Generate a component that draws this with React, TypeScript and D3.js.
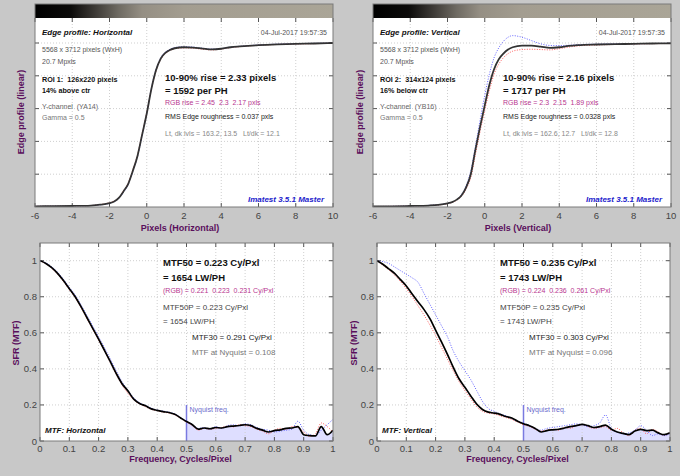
import React from 'react';
import * as d3 from 'd3';

// ---------- DATA ----------
const EDGE_X = [-6, -5, -4, -3, -2.5, -2, -1.75, -1.5, -1.25, -1, -0.75, -0.5, -0.25, 0, 0.25, 0.5, 0.75, 1, 1.25, 1.5, 2, 2.5, 3, 3.5, 4, 4.5, 5, 6, 7, 8, 9, 10];
const EDGE_H_Y = [0.004, 0.005, 0.006, 0.009, 0.014, 0.024, 0.034, 0.055, 0.095, 0.14, 0.22, 0.31, 0.44, 0.57, 0.72, 0.835, 0.905, 0.94, 0.958, 0.968, 0.974, 0.972, 0.966, 0.961, 0.965, 0.974, 0.979, 0.987, 0.992, 0.995, 0.997, 1.0];
const EDGE_H_R = [0.004, 0.005, 0.006, 0.009, 0.015, 0.026, 0.036, 0.057, 0.098, 0.145, 0.225, 0.315, 0.445, 0.575, 0.72, 0.83, 0.9, 0.935, 0.955, 0.965, 0.97, 0.968, 0.962, 0.958, 0.963, 0.972, 0.978, 0.986, 0.991, 0.994, 0.996, 0.999];
const EDGE_H_B = [0.004, 0.005, 0.006, 0.009, 0.013, 0.022, 0.032, 0.052, 0.09, 0.135, 0.215, 0.305, 0.435, 0.57, 0.725, 0.84, 0.91, 0.945, 0.962, 0.972, 0.977, 0.975, 0.968, 0.963, 0.966, 0.975, 0.98, 0.988, 0.993, 0.996, 0.998, 1.0];
const EDGE_V_Y = [0.003, 0.004, 0.006, 0.009, 0.013, 0.022, 0.03, 0.045, 0.07, 0.12, 0.2, 0.35, 0.49, 0.62, 0.745, 0.84, 0.9, 0.935, 0.96, 0.974, 0.984, 0.984, 0.978, 0.97, 0.974, 0.982, 0.987, 0.991, 0.993, 0.995, 0.997, 0.998];
const EDGE_V_R = [0.003, 0.004, 0.006, 0.009, 0.012, 0.02, 0.028, 0.042, 0.065, 0.11, 0.18, 0.32, 0.46, 0.59, 0.71, 0.81, 0.87, 0.91, 0.935, 0.95, 0.96, 0.962, 0.96, 0.958, 0.965, 0.975, 0.982, 0.988, 0.991, 0.994, 0.996, 0.997];
const EDGE_V_B = [0.003, 0.004, 0.006, 0.01, 0.014, 0.022, 0.03, 0.045, 0.075, 0.13, 0.22, 0.37, 0.53, 0.68, 0.81, 0.91, 0.97, 1.01, 1.035, 1.045, 1.035, 1.015, 0.995, 0.985, 0.984, 0.986, 0.99, 0.993, 0.995, 0.996, 0.997, 0.998];

const FREQ = [0, 0.02, 0.04, 0.06, 0.08, 0.1, 0.12, 0.14, 0.16, 0.18, 0.2, 0.22, 0.24, 0.26, 0.28, 0.3, 0.32, 0.34, 0.36, 0.38, 0.4, 0.42, 0.44, 0.46, 0.48, 0.5, 0.52, 0.54, 0.56, 0.58, 0.6, 0.62, 0.64, 0.66, 0.68, 0.7, 0.72, 0.74, 0.76, 0.78, 0.8, 0.82, 0.84, 0.86, 0.88, 0.9, 0.92, 0.94, 0.96, 0.98, 1.0];
const MTF_H_Y = [1.0, 0.985, 0.962, 0.93, 0.89, 0.845, 0.8, 0.745, 0.685, 0.625, 0.565, 0.503, 0.44, 0.375, 0.318, 0.278, 0.232, 0.208, 0.195, 0.178, 0.17, 0.163, 0.158, 0.148, 0.128, 0.108, 0.09, 0.066, 0.072, 0.068, 0.075, 0.072, 0.08, 0.083, 0.086, 0.09, 0.085, 0.07, 0.06, 0.05, 0.058, 0.062, 0.07, 0.072, 0.08, 0.035, 0.03, 0.028, 0.08, 0.035, 0.06];
const MTF_H_R = [1, 0.983, 0.958, 0.925, 0.885, 0.84, 0.795, 0.74, 0.68, 0.62, 0.56, 0.5, 0.435, 0.37, 0.31, 0.265, 0.228, 0.205, 0.19, 0.175, 0.168, 0.16, 0.155, 0.145, 0.125, 0.105, 0.085, 0.06, 0.07, 0.065, 0.07, 0.075, 0.082, 0.078, 0.09, 0.085, 0.08, 0.065, 0.055, 0.04, 0.06, 0.07, 0.065, 0.08, 0.075, 0.05, 0.025, 0.04, 0.1, 0.08, 0.05];
const MTF_H_B = [1, 0.988, 0.966, 0.936, 0.897, 0.853, 0.81, 0.755, 0.697, 0.638, 0.578, 0.518, 0.455, 0.39, 0.328, 0.28, 0.24, 0.212, 0.198, 0.182, 0.172, 0.166, 0.16, 0.15, 0.13, 0.11, 0.09, 0.07, 0.075, 0.065, 0.08, 0.07, 0.085, 0.09, 0.085, 0.095, 0.09, 0.075, 0.065, 0.06, 0.05, 0.055, 0.06, 0.065, 0.11, 0.06, 0.035, 0.03, 0.06, 0.09, 0.12];
const MTF_V_Y = [1.0, 0.98, 0.955, 0.93, 0.895, 0.86, 0.815, 0.772, 0.73, 0.68, 0.615, 0.55, 0.482, 0.41, 0.345, 0.298, 0.25, 0.205, 0.175, 0.16, 0.155, 0.148, 0.136, 0.128, 0.11, 0.096, 0.085, 0.07, 0.05, 0.058, 0.062, 0.065, 0.072, 0.08, 0.085, 0.092, 0.085, 0.075, 0.08, 0.088, 0.065, 0.05, 0.042, 0.035, 0.055, 0.065, 0.058, 0.06, 0.045, 0.035, 0.045];
const MTF_V_R = [1, 0.975, 0.95, 0.92, 0.885, 0.845, 0.8, 0.75, 0.7, 0.645, 0.585, 0.52, 0.455, 0.39, 0.33, 0.28, 0.235, 0.19, 0.165, 0.155, 0.15, 0.14, 0.13, 0.12, 0.105, 0.09, 0.08, 0.065, 0.055, 0.06, 0.065, 0.06, 0.075, 0.07, 0.085, 0.09, 0.08, 0.07, 0.075, 0.08, 0.06, 0.07, 0.045, 0.03, 0.06, 0.07, 0.04, 0.065, 0.05, 0.03, 0.05];
const MTF_V_B = [1, 0.995, 0.985, 0.965, 0.945, 0.925, 0.905, 0.88, 0.82, 0.76, 0.7, 0.64, 0.58, 0.5, 0.44, 0.39, 0.34, 0.28, 0.22, 0.18, 0.165, 0.15, 0.14, 0.125, 0.11, 0.1, 0.085, 0.07, 0.06, 0.07, 0.075, 0.08, 0.085, 0.09, 0.095, 0.09, 0.08, 0.085, 0.1, 0.145, 0.07, 0.05, 0.04, 0.045, 0.06, 0.085, 0.06, 0.03, 0.04, 0.03, 0.04];

const EDGE_X_TICKS = [-6, -4, -2, 0, 2, 4, 6, 8, 10];
const EDGE_Y_GRID = [0.2, 0.4, 0.6, 0.8, 1.0];
const MTF_X_TICKS = [0, 0.1, 0.2, 0.3, 0.4, 0.5, 0.6, 0.7, 0.8, 0.9, 1];
const MTF_Y_TICKS = [0, 0.2, 0.4, 0.6, 0.8, 1];
const NYQUIST = 0.5;

const EDGE_TEXT_H = {
  title: 'Edge profile: Horizontal', date: '04-Jul-2017 19:57:35',
  size: '5568 x 3712 pixels (WxH)', mp: '20.7 Mpxls', roi: 'ROI 1:  126x220 pixels', pos: '14% above ctr',
  chan: 'Y-channel  (YA14)', gamma: 'Gamma = 0.5',
  rise: '10-90% rise = 2.33 pixels', ph: '= 1592 per PH', rgb: 'RGB rise = 2.45  2.3  2.17 pxls',
  rms: 'RMS Edge roughness = 0.037 pxls', lvls: 'Lt, dk lvls = 163.2, 13.5   Lt/dk = 12.1',
  axis: 'Pixels (Horizontal)',
};
const EDGE_TEXT_V = {
  title: 'Edge profile: Vertical', date: '04-Jul-2017 19:57:35',
  size: '5568 x 3712 pixels (WxH)', mp: '20.7 Mpxls', roi: 'ROI 2:  314x124 pixels', pos: '16% below ctr',
  chan: 'Y-channel  (YB16)', gamma: 'Gamma = 0.5',
  rise: '10-90% rise = 2.16 pixels', ph: '= 1717 per PH', rgb: 'RGB rise = 2.3  2.15  1.89 pxls',
  rms: 'RMS Edge roughness = 0.0328 pxls', lvls: 'Lt, dk lvls = 162.6, 12.7   Lt/dk = 12.8',
  axis: 'Pixels (Vertical)',
};
const MTF_TEXT_H = {
  mtf50: 'MTF50 = 0.223 Cy/Pxl', lw: '= 1654 LW/PH', rgb: '(RGB) = 0.221  0.223  0.231 Cy/Pxl',
  p: 'MTF50P = 0.223 Cy/Pxl', plw: '= 1654 LW/PH', m30: 'MTF30 = 0.291 Cy/Pxl', nyq: 'MTF at Nyquist = 0.108',
  label: 'MTF: Horizontal',
};
const MTF_TEXT_V = {
  mtf50: 'MTF50 = 0.235 Cy/Pxl', lw: '= 1743 LW/PH', rgb: '(RGB) = 0.224  0.236  0.261 Cy/Pxl',
  p: 'MTF50P = 0.235 Cy/Pxl', plw: '= 1743 LW/PH', m30: 'MTF30 = 0.303 Cy/Pxl', nyq: 'MTF at Nyquist = 0.096',
  label: 'MTF: Vertical',
};
const SOFTWARE = 'Imatest 3.5.1 Master';

// ---------- STYLE ----------
const FONT = 'Liberation Sans, Arial, Helvetica, sans-serif';
const BG = '#c8c8c8';
const PURPLE = '#5a0f5c';
const MAGENTA = '#b8368f';

type TP = { x: number; y: number; s: number; c?: string; b?: boolean; i?: boolean; a?: string; w?: number; children: any };
function T({ x, y, s, c = '#222', b, i, a = 'start', w, children }: TP) {
  const extra: any = {};
  if (w) { extra.textLength = w; extra.lengthAdjust = 'spacingAndGlyphs'; }
  return (
    <text x={x} y={y} fontSize={s} fill={c} fontWeight={b ? 'bold' : 'normal'} fontStyle={i ? 'italic' : 'normal'}
      textAnchor={a} fontFamily={FONT} style={{ whiteSpace: 'pre' }} {...extra}>{children}</text>
  );
}

function EdgePanel({ id, x0, x1, black, red, blue, t, ylabX }: any) {
  const top = 4, gradBot = 18, bottom = 207;
  const xs = d3.scaleLinear().domain([-6, 10]).range([x0, x1]);
  const ys = d3.scaleLinear().domain([0, 1]).range([bottom, 43]);
  const line = (vals: number[]) => d3.line<number>().x((_, k) => xs(EDGE_X[k])).y(v => ys(v)).curve(d3.curveMonotoneX)(vals) || '';
  const ox = x0;
  return (
    <g>
      <defs>
        <linearGradient id={`grad${id}`} x1="0" x2="1" y1="0" y2="0">
          <stop offset="0" stopColor="#000" />
          <stop offset="0.12" stopColor="#0c0b0a" />
          <stop offset="0.2" stopColor="#3c3935" />
          <stop offset="0.28" stopColor="#6e6a62" />
          <stop offset="0.36" stopColor="#958f84" />
          <stop offset="0.5" stopColor="#a39d90" />
          <stop offset="1" stopColor="#aaa597" />
        </linearGradient>
        <clipPath id={`clipE${id}`}><rect x={x0} y={gradBot} width={x1 - x0} height={bottom - gradBot} /></clipPath>
      </defs>
      <rect x={x0} y={gradBot} width={x1 - x0} height={bottom - gradBot} fill="#fff" />
      <rect x={x0} y={top} width={x1 - x0} height={gradBot - top} fill={`url(#grad${id})`} />
      {EDGE_X_TICKS.slice(1, -1).map(v => (
        <line key={'gx' + v} x1={xs(v)} x2={xs(v)} y1={gradBot} y2={bottom} stroke="#cfcfcf" strokeDasharray="1 2" />
      ))}
      {EDGE_Y_GRID.map(v => (
        <line key={'gy' + v} x1={x0} x2={x1} y1={ys(v)} y2={ys(v)} stroke="#cfcfcf" strokeDasharray="1 2" />
      ))}
      {EDGE_X_TICKS.map(v => (
        <g key={'tx' + v}>
          <line x1={xs(v)} x2={xs(v)} y1={bottom} y2={bottom - 4} stroke="#555" />
          <line x1={xs(v)} x2={xs(v)} y1={gradBot} y2={gradBot + 4} stroke="#555" />
          <T x={xs(v)} y={219} s={9.5} c="#444" a="middle">{String(v)}</T>
        </g>
      ))}
      {EDGE_Y_GRID.map(v => (
        <g key={'ty' + v}>
          <line x1={x0} x2={x0 + 4} y1={ys(v)} y2={ys(v)} stroke="#555" />
          <line x1={x1} x2={x1 - 4} y1={ys(v)} y2={ys(v)} stroke="#555" />
        </g>
      ))}
      <g clipPath={`url(#clipE${id})`}>
        <path d={line(red)} fill="none" stroke="#ff5a5a" strokeWidth={1} strokeDasharray="1 1.5" />
        <path d={line(blue)} fill="none" stroke="#6060ff" strokeWidth={1} strokeDasharray="1 1.5" />
        <path d={line(black)} fill="none" stroke="#333" strokeWidth={1.8} />
      </g>
      <rect x={x0} y={top} width={x1 - x0} height={bottom - top} fill="none" stroke="#7a7a7a" />

      <T x={ox + 7} y={35} s={8} b i c="#111">{t.title}</T>
      <T x={x1 - 6} y={35} s={7} c="#555" a="end">{t.date}</T>
      <T x={ox + 7} y={51.5} s={7} c="#555">{t.size}</T>
      <T x={ox + 7} y={64} s={7} c="#555">{t.mp}</T>
      <T x={ox + 7} y={81.5} s={7.2} b c="#111">{t.roi}</T>
      <T x={ox + 7} y={92.5} s={7.2} b c="#111">{t.pos}</T>
      <T x={ox + 7} y={108.5} s={7} c="#666">{t.chan}</T>
      <T x={ox + 7} y={120} s={7} c="#777">{t.gamma}</T>
      <T x={ox + 130} y={80.5} s={9.5} b c="#111">{t.rise}</T>
      <T x={ox + 130} y={94} s={9.5} b c="#111">{t.ph}</T>
      <T x={ox + 130} y={105} s={7} c={MAGENTA}>{t.rgb}</T>
      <T x={ox + 130} y={118.5} s={7} c="#222">{t.rms}</T>
      <T x={ox + 130} y={136} s={7} c="#888">{t.lvls}</T>
      <T x={x1 - 9} y={201.5} s={8} b i c="#2222cc" a="end">{SOFTWARE}</T>

      <T x={(x0 + x1) / 2 - 4} y={231} s={9} b c={PURPLE} a="middle">{t.axis}</T>
      <g transform={`translate(${ylabX},112) rotate(-90)`}>
        <T x={0} y={0} s={9} b c={PURPLE} a="middle">Edge profile (linear)</T>
      </g>
    </g>
  );
}

function MtfPanel({ id, x0, x1, black, red, blue, t, ylabX }: any) {
  const top = 243, bottom = 441;
  const xs = d3.scaleLinear().domain([0, 1]).range([x0, x1]);
  const ys = d3.scaleLinear().domain([0, 1]).range([bottom, 260.7]);
  const line = (vals: number[]) => d3.line<number>().x((_, k) => xs(FREQ[k])).y(v => ys(v)).curve(d3.curveMonotoneX)(vals) || '';
  const idx = FREQ.map((f, k) => k).filter(k => FREQ[k] >= NYQUIST);
  const area = d3.area<number>().x(k => xs(FREQ[k])).y0(bottom).y1(k => ys(black[k])).curve(d3.curveMonotoneX)(idx) || '';
  return (
    <g>
      <defs>
        <clipPath id={`clipM${id}`}><rect x={x0} y={top} width={x1 - x0} height={bottom - top} /></clipPath>
      </defs>
      <rect x={x0} y={top} width={x1 - x0} height={bottom - top} fill="#fff" />
      <path d={area} fill="#dedeff" />
      {MTF_X_TICKS.slice(1, -1).map(v => (
        <line key={'gx' + v} x1={xs(v)} x2={xs(v)} y1={top} y2={bottom} stroke="#cfcfcf" strokeDasharray="1 2" />
      ))}
      {MTF_Y_TICKS.slice(1).map(v => (
        <line key={'gy' + v} x1={x0} x2={x1} y1={ys(v)} y2={ys(v)} stroke="#cfcfcf" strokeDasharray="1 2" />
      ))}
      {MTF_X_TICKS.map(v => (
        <g key={'tx' + v}>
          <line x1={xs(v)} x2={xs(v)} y1={bottom} y2={bottom - 4} stroke="#555" />
          <line x1={xs(v)} x2={xs(v)} y1={top} y2={top + 4} stroke="#555" />
          <T x={xs(v)} y={452} s={9.5} c="#444" a="middle">{String(v)}</T>
        </g>
      ))}
      {MTF_Y_TICKS.map(v => (
        <g key={'ty' + v}>
          <line x1={x0} x2={x0 + 4} y1={ys(v)} y2={ys(v)} stroke="#555" />
          <line x1={x1} x2={x1 - 4} y1={ys(v)} y2={ys(v)} stroke="#555" />
          <T x={x0 - 3} y={ys(v) + 3.5} s={9.5} c="#444" a="end">{String(v)}</T>
        </g>
      ))}
      <line x1={xs(NYQUIST)} x2={xs(NYQUIST)} y1={ys(0.2)} y2={bottom} stroke="#7a7ae0" strokeWidth={1.5} />
      <T x={xs(NYQUIST) + 3} y={412} s={7} c="#6a6acc">Nyquist freq.</T>
      <g clipPath={`url(#clipM${id})`}>
        <path d={line(red)} fill="none" stroke="#ff5a5a" strokeWidth={1} strokeDasharray="1 1.5" />
        <path d={line(blue)} fill="none" stroke="#6060ff" strokeWidth={1} strokeDasharray="1 1.5" />
        <path d={line(black)} fill="none" stroke="#000" strokeWidth={1.7} />
      </g>
      <rect x={x0} y={top} width={x1 - x0} height={bottom - top} fill="none" stroke="#7a7a7a" />

      <T x={x0 + 123} y={265.5} s={9.5} b c="#111">{t.mtf50}</T>
      <T x={x0 + 123} y={280.5} s={9.5} b c="#111">{t.lw}</T>
      <T x={x0 + 123} y={293} s={7} c={MAGENTA}>{t.rgb}</T>
      <T x={x0 + 123} y={310} s={8} c="#444">{t.p}</T>
      <T x={x0 + 123} y={323.5} s={8} c="#444">{t.plw}</T>
      <T x={x0 + 152} y={340} s={8} c="#222">{t.m30}</T>
      <T x={x0 + 152} y={355} s={8} c="#777">{t.nyq}</T>
      <T x={x0 + 5} y={433} s={8} b i c="#111">{t.label}</T>

      <T x={(x0 + x1) / 2 - 6} y={462} s={9} b c={PURPLE} a="middle">Frequency, Cycles/Pixel</T>
      <g transform={`translate(${ylabX},343) rotate(-90)`}>
        <T x={0} y={0} s={9} b c={PURPLE} a="middle">SFR (MTF)</T>
      </g>
    </g>
  );
}

export default function App() {
  return (
    <svg width={680} height={476} viewBox="0 0 680 476"
      style={{ position: 'absolute', left: 0, top: 0, display: 'block', background: BG }}>
      <rect x={0} y={0} width={680} height={476} fill={BG} />
      <EdgePanel id="h" x0={35} x1={333} black={EDGE_H_Y} red={EDGE_H_R} blue={EDGE_H_B} t={EDGE_TEXT_H} ylabX={24} />
      <EdgePanel id="v" x0={373} x1={671} black={EDGE_V_Y} red={EDGE_V_R} blue={EDGE_V_B} t={EDGE_TEXT_V} ylabX={363} />
      <MtfPanel id="h" x0={40} x1={333} black={MTF_H_Y} red={MTF_H_R} blue={MTF_H_B} t={MTF_TEXT_H} ylabX={18.5} />
      <MtfPanel id="v" x0={377} x1={670} black={MTF_V_Y} red={MTF_V_R} blue={MTF_V_B} t={MTF_TEXT_V} ylabX={357} />
    </svg>
  );
}
